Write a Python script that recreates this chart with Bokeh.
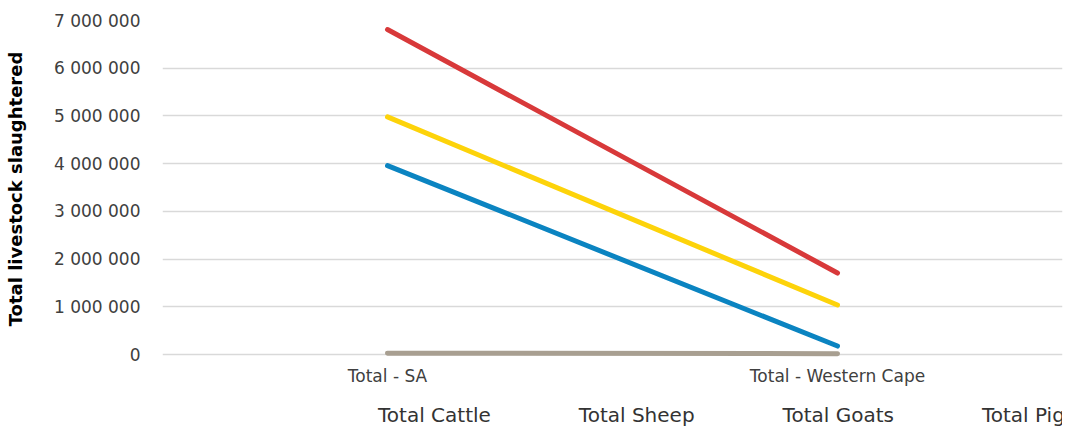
from bokeh.plotting import figure
from bokeh.layouts import column
from bokeh.models import (Range1d, FactorRange, FixedTicker, CustomJSTickFormatter,
                          Legend, LegendItem)
from bokeh.embed import file_html
from bokeh.resources import INLINE

categories = ["Total - SA", "Total - Western Cape"]
cattle = [3960000, 180000]
sheep = [6810000, 1710000]
goats = [30000, 20000]
pigs = [4980000, 1040000]
y_ticks = [0, 1000000, 2000000, 3000000, 4000000, 5000000, 6000000, 7000000]

series = [
    ("Total Cattle", cattle, "#0B84C1"),
    ("Total Sheep", sheep, "#D8393A"),
    ("Total Goats", goats, "#A89F91"),
    ("Total Pigs", pigs, "#FDD30A"),
]

FONT = "DejaVu Sans"
TXT = "#404040"

p = figure(width=1068, height=392, x_range=FactorRange(*categories),
           y_range=Range1d(-60000, 7000000), output_backend="svg",
           toolbar_location=None, min_border_left=162, min_border_right=6,
           min_border_top=20, min_border_bottom=35)
p.outline_line_color = None
p.xgrid.grid_line_color = None
p.ygrid.grid_line_color = "#D9D9D9"
p.ygrid.grid_line_width = 1.5
p.ygrid.ticker = FixedTicker(ticks=y_ticks)

p.yaxis.ticker = FixedTicker(ticks=y_ticks)
p.yaxis.formatter = CustomJSTickFormatter(
    code=r"return Math.round(tick).toString().replace(/\B(?=(\d{3})+(?!\d))/g, ' ');")
for ax in (p.xaxis[0], p.yaxis[0]):
    ax.axis_line_color = None
    ax.major_tick_line_color = None
    ax.minor_tick_line_color = None
    ax.major_label_text_font = FONT
    ax.major_label_text_font_size = "17px"
    ax.major_label_text_color = TXT
p.yaxis.major_label_standoff = 16
p.xaxis.major_label_standoff = 2
p.yaxis.axis_label = "Total livestock slaughtered"
p.yaxis.axis_label_text_font = FONT
p.yaxis.axis_label_text_font_style = "bold"
p.yaxis.axis_label_text_font_size = "18px"
p.yaxis.axis_label_text_color = "#000000"
p.yaxis.axis_label_standoff = 25

for name, vals, color in series:
    p.line(x=categories, y=vals, line_color=color, line_width=5, line_cap="round")

# separate strip below the chart that carries the legend
leg = figure(width=1068, height=35, x_range=Range1d(0, 1), y_range=Range1d(0, 1),
             output_backend="svg", toolbar_location=None,
             x_axis_type=None, y_axis_type=None, min_border=0)
leg.outline_line_color = None
leg.xgrid.grid_line_color = None
leg.ygrid.grid_line_color = None
items = []
for name, vals, color in series:
    r = leg.line(x=[], y=[], line_color=color, line_width=5, line_cap="round")
    items.append(LegendItem(label=name, renderers=[r]))

legend = Legend(items=items, orientation="horizontal", location=(160, 0),
                glyph_width=52, glyph_height=20, label_height=20, label_standoff=4,
                spacing=32, padding=0, margin=0, border_line_color=None,
                background_fill_alpha=0, label_text_font=FONT,
                label_text_font_size="20px", label_text_color="#333333")
leg.add_layout(legend, "center")

layout = column(p, leg, spacing=0)
open("out.html", "w").write(file_html(layout, INLINE))
